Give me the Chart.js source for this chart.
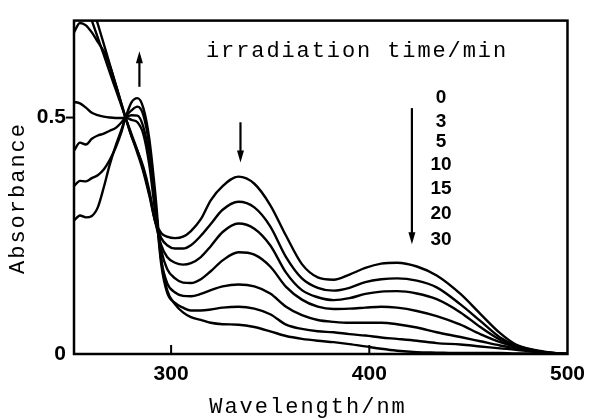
<!DOCTYPE html>
<html>
<head>
<meta charset="utf-8">
<script src="https://cdn.jsdelivr.net/npm/chart.js@4"></script>
<style>
  html, body { margin: 0; padding: 0; background: #fff; }
  canvas { display: block; }
</style>
</head>
<body>
<canvas id="spectraChart" width="593" height="419"></canvas>
<script>
// wavelength grid (nm) shared by all spectra
const wavelengths = [251, 254, 257, 260, 263, 266, 269, 272, 275, 277,
  280, 283, 286, 289, 292, 295, 298, 302, 306, 310,
  315, 320, 326, 334, 342, 350, 358, 366, 374, 382,
  390, 398, 406, 414, 424, 434, 446, 456, 466, 474,
  484, 492, 500];

// absorbance after each irradiation time
const abs0min = [0.81, 0.777, 0.741, 0.705, 0.669, 0.633, 0.596, 0.56, 0.524, 0.5,
  0.462, 0.425, 0.385, 0.335, 0.28, 0.256, 0.248, 0.245, 0.248, 0.26,
  0.285, 0.325, 0.355, 0.375, 0.36, 0.315, 0.25, 0.19, 0.162, 0.157,
  0.168, 0.182, 0.191, 0.193, 0.185, 0.166, 0.127, 0.085, 0.044, 0.02,
  0.008, 0.003, 0];
const abs3min = [0.87, 0.825, 0.783, 0.74, 0.698, 0.656, 0.613, 0.571, 0.528, 0.5,
  0.465, 0.43, 0.39, 0.34, 0.28, 0.245, 0.23, 0.223, 0.223, 0.23,
  0.25, 0.275, 0.305, 0.322, 0.31, 0.27, 0.205, 0.16, 0.14, 0.134,
  0.14, 0.152, 0.158, 0.16, 0.155, 0.141, 0.105, 0.07, 0.035, 0.018,
  0.007, 0.002, 0];
const abs5min = [0.68, 0.7, 0.695, 0.68, 0.66, 0.64, 0.61, 0.57, 0.528, 0.5,
  0.46, 0.43, 0.395, 0.345, 0.28, 0.23, 0.205, 0.193, 0.189, 0.192,
  0.205, 0.228, 0.258, 0.276, 0.265, 0.23, 0.172, 0.135, 0.12, 0.114,
  0.118, 0.127, 0.132, 0.133, 0.128, 0.116, 0.088, 0.057, 0.03, 0.016,
  0.006, 0.002, 0];
const abs10min = [0.533, 0.53, 0.521, 0.51, 0.505, 0.502, 0.5, 0.499, 0.499, 0.5,
  0.495, 0.49, 0.465, 0.4, 0.3, 0.22, 0.18, 0.16, 0.151, 0.15,
  0.158, 0.175, 0.198, 0.215, 0.21, 0.185, 0.142, 0.115, 0.1, 0.095,
  0.096, 0.098, 0.1, 0.098, 0.091, 0.08, 0.062, 0.042, 0.025, 0.015,
  0.006, 0.002, 0];
const abs15min = [0.43, 0.447, 0.443, 0.455, 0.462, 0.466, 0.472, 0.478, 0.49, 0.5,
  0.505, 0.504, 0.48, 0.42, 0.32, 0.2, 0.15, 0.13, 0.123, 0.122,
  0.127, 0.135, 0.143, 0.147, 0.143, 0.128, 0.1, 0.082, 0.072, 0.068,
  0.066, 0.066, 0.066, 0.063, 0.056, 0.046, 0.036, 0.027, 0.018, 0.012,
  0.005, 0.001, 0];
const abs20min = [0.355, 0.366, 0.365, 0.372, 0.378, 0.39, 0.41, 0.436, 0.47, 0.5,
  0.515, 0.523, 0.505, 0.44, 0.32, 0.19, 0.13, 0.108, 0.098, 0.092,
  0.092, 0.094, 0.098, 0.1, 0.096, 0.084, 0.062, 0.053, 0.048, 0.046,
  0.042, 0.039, 0.035, 0.032, 0.028, 0.023, 0.02, 0.016, 0.012, 0.009,
  0.004, 0.001, 0];
const abs30min = [0.282, 0.293, 0.289, 0.292, 0.31, 0.352, 0.4, 0.44, 0.475, 0.5,
  0.532, 0.541, 0.52, 0.455, 0.34, 0.2, 0.135, 0.105, 0.088, 0.078,
  0.072, 0.066, 0.063, 0.062, 0.057, 0.048, 0.038, 0.032, 0.028, 0.025,
  0.021, 0.016, 0.011, 0.007, 0.004, 0.003, 0.002, 0.002, 0.002, 0.001,
  0.001, 0, 0];

const timeLabels = ['0', '3', '5', '10', '15', '20', '30'];
const xTickValues = [300, 400, 500];
const yTickValues = [0, 0.5];

const spectra = [abs0min, abs3min, abs5min, abs10min, abs15min, abs20min, abs30min];

const MONO = '"Liberation Mono", "DejaVu Sans Mono", monospace';
const SANS = '"Liberation Sans", Arial, sans-serif';

// draw text char by char with fixed advance (wide typewriter look)
function spacedText(ctx, text, x, y, advance) {
  for (let i = 0; i < text.length; i++) {
    ctx.fillText(text[i], x + i * advance, y);
  }
}

function arrow(ctx, x, yFrom, yTo) {
  const dir = yTo > yFrom ? 1 : -1;
  ctx.beginPath();
  ctx.moveTo(x, yFrom);
  ctx.lineTo(x, yTo - dir * 10);
  ctx.stroke();
  ctx.beginPath();
  ctx.moveTo(x, yTo);
  ctx.lineTo(x - 3.5, yTo - dir * 12);
  ctx.lineTo(x + 3.5, yTo - dir * 12);
  ctx.closePath();
  ctx.fill();
}

const decorations = {
  id: 'decorations',
  afterDraw(chart) {
    const { ctx, chartArea: a, scales: { x, y } } = chart;
    ctx.save();
    ctx.strokeStyle = '#000';
    ctx.fillStyle = '#000';

    // frame
    ctx.lineWidth = 2.5;
    ctx.strokeRect(a.left, a.top, a.right - a.left, a.bottom - a.top);

    // inner ticks on x, outer tick at 0.5
    ctx.lineWidth = 2;
    [300, 400].forEach(v => {
      const px = x.getPixelForValue(v);
      ctx.beginPath();
      ctx.moveTo(px, a.bottom);
      ctx.lineTo(px, a.bottom - 9);
      ctx.stroke();
    });
    const py5 = y.getPixelForValue(0.5);
    ctx.beginPath();
    ctx.moveTo(a.left - 8, py5);
    ctx.lineTo(a.left, py5);
    ctx.stroke();

    // arrows
    ctx.lineWidth = 2.2;
    arrow(ctx, x.getPixelForValue(284), y.getPixelForValue(0.565), y.getPixelForValue(0.64));
    arrow(ctx, x.getPixelForValue(335), y.getPixelForValue(0.49), y.getPixelForValue(0.405));
    arrow(ctx, x.getPixelForValue(421.5), y.getPixelForValue(0.52), y.getPixelForValue(0.232));

    // annotation text
    ctx.font = '22px ' + MONO;
    ctx.textAlign = 'left';
    ctx.textBaseline = 'alphabetic';
    spacedText(ctx, 'irradiation time/min', 206, 57, 15.1);

    // time labels
    ctx.font = 'bold 19px ' + SANS;
    ctx.textAlign = 'center';
    ctx.textBaseline = 'middle';
    const labelY = [98, 122, 142, 165, 189, 214, 240];
    timeLabels.forEach((t, i) => ctx.fillText(t, 441, labelY[i]));

    // axis titles
    ctx.font = '22px ' + MONO;
    ctx.textAlign = 'left';
    ctx.textBaseline = 'middle';
    const xt = 'Wavelength/nm';
    spacedText(ctx, xt, 307 - (xt.length * 15.2) / 2 + 1, 407, 15.2);

    ctx.translate(18, 199);
    ctx.rotate(-Math.PI / 2);
    const yt = 'Absorbance';
    spacedText(ctx, yt, -(yt.length * 15.2) / 2 + 1, 0, 15.2);
    ctx.restore();
  }
};

new Chart(document.getElementById('spectraChart'), {
  type: 'line',
  data: {
    datasets: spectra.map((s, i) => ({
      label: timeLabels[i] + ' min',
      data: wavelengths.map((w, j) => ({ x: w, y: s[j] })),
      borderColor: '#000',
      borderWidth: 2.4,
      pointRadius: 0,
      fill: false,
      cubicInterpolationMode: 'monotone'
    }))
  },
  options: {
    responsive: false,
    animation: false,
    events: [],
    layout: { padding: { left: 0, top: 14, right: 20, bottom: 0 } },
    plugins: {
      legend: { display: false },
      tooltip: { enabled: false }
    },
    scales: {
      x: {
        type: 'linear',
        min: 251,
        max: 500,
        afterBuildTicks: s => { s.ticks = xTickValues.map(v => ({ value: v })); },
        afterFit: s => { s.height = 65; },
        grid: { display: false, drawTicks: false },
        border: { display: false },
        ticks: {
          color: '#000',
          font: { family: SANS, size: 21, weight: 'bold' },
          padding: 8,
          maxRotation: 0
        }
      },
      y: {
        type: 'linear',
        min: 0,
        max: 0.705,
        afterBuildTicks: s => { s.ticks = yTickValues.map(v => ({ value: v })); },
        afterFit: s => { s.width = 74; },
        grid: { display: false, drawTicks: false },
        border: { display: false },
        ticks: {
          color: '#000',
          font: { family: SANS, size: 21, weight: 'bold' },
          padding: 8
        }
      }
    }
  },
  plugins: [decorations]
});
</script>
</body>
</html>
